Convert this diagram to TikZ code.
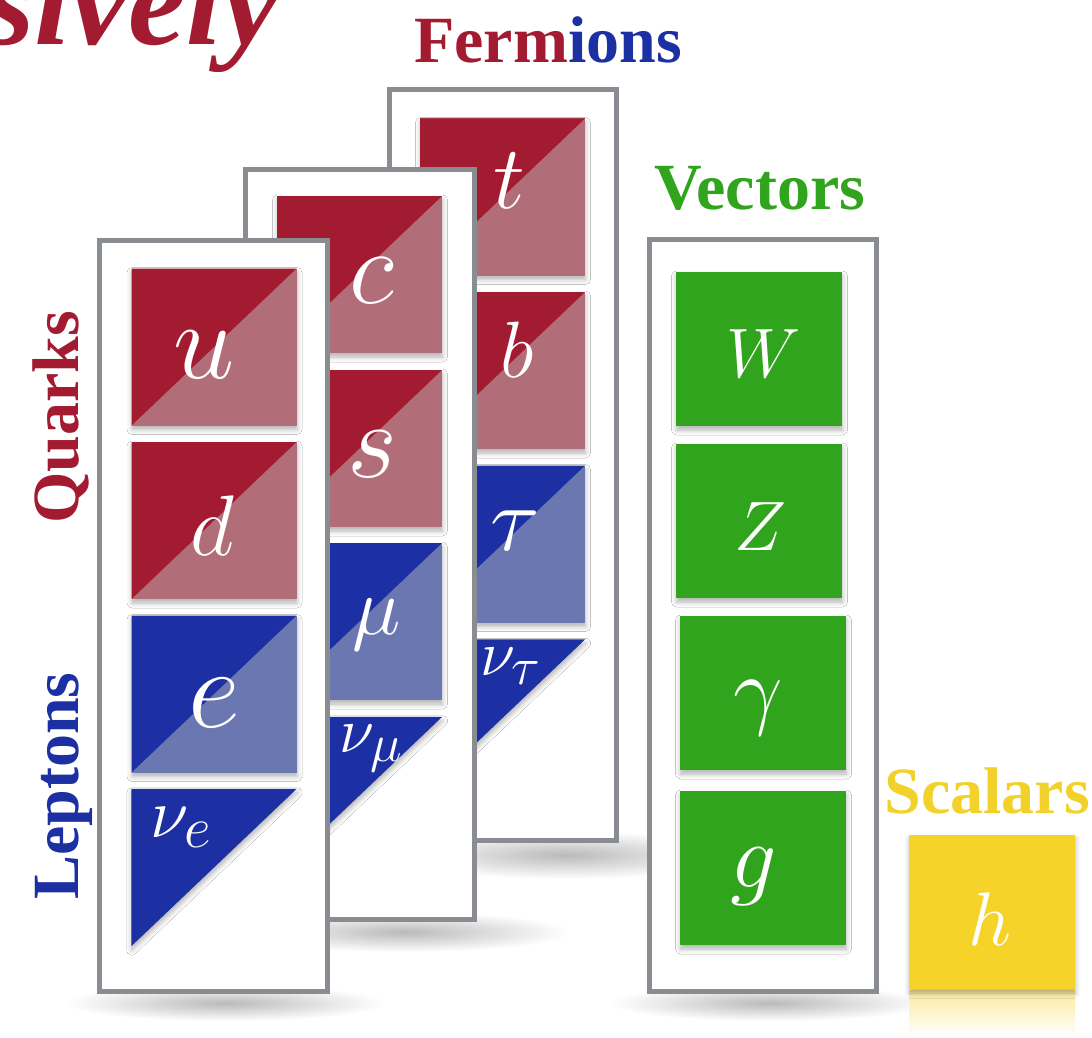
\documentclass[tikz,border=0pt]{standalone}
\usepackage{fontspec}
\newfontfamily\lbl{Liberation Serif}
\usetikzlibrary{shadows.blur,fadings}

\definecolor{qdark}{HTML}{A31B30}
\definecolor{qlight}{HTML}{B26E78}
\definecolor{ldark}{HTML}{1C30A4}
\definecolor{llight}{HTML}{6B77B1}
\definecolor{vgreen}{HTML}{30A41C}
\definecolor{hyellow}{HTML}{F5D328}
\definecolor{syellow}{HTML}{F2D12A}
\definecolor{framegray}{HTML}{898C90}

\newcommand\letsize[1]{\fontsize{#1}{#1}\selectfont}

\tikzfading[name=softspot, inner color=transparent!55, outer color=transparent!100]

\tikzset{
  frame/.style={draw=framegray, line width=5pt, fill=white, inner sep=0pt},
  sqshadow/.style={blur shadow={shadow xshift=0.5pt, shadow yshift=-4pt,
      shadow blur radius=5pt, shadow opacity=30}},
  halfsq/.style 2 args={sqshadow, fill=#2, inner sep=0pt,
      minimum width=165pt, minimum height=157pt,
      path picture={\fill[#1] (path picture bounding box.north west)
        -- (path picture bounding box.north east)
        -- (path picture bounding box.south west) -- cycle;}},
  quark/.style={halfsq={qdark}{qlight}},
  lepton/.style={halfsq={ldark}{llight}},
  nubox/.style={inner sep=0pt, minimum width=165pt, minimum height=157pt},
  boson/.style={sqshadow, fill=#1, inner sep=0pt,
      minimum width=166pt, minimum height=154pt},
  % letters: set at \Huge and scaled to the wanted size in pt
  lett/.style={text=white, inner sep=0pt, anchor=base, font=\Huge, scale=#1/24.88},
  nulett/.style={text=white, inner sep=0pt, anchor=base west, font=\Huge, scale=#1/24.88},
  lab/.style={font=\lbl\bfseries\letsize{66}, inner sep=0pt, anchor=base},
  floorshadow/.style={fill=black!60, path fading=softspot},
}

\begin{document}
\begin{tikzpicture}[x=1pt,y=-1pt]
\useasboundingbox (0,0) rectangle (1092,1038);

% heading fragment and group title
\node[font=\lbl\bfseries\itshape\letsize{130}, text=qdark, inner sep=0pt,
      anchor=base west] (sively) at (-16,45) {sively};
\node[lab] (fermions) at (548,63) {{\color{qdark}Ferm}{\color{ldark}ions}};

% third generation
\fill[floorshadow] (565,855) ellipse [x radius=175pt, y radius=24pt];
\node[frame, minimum width=227pt, minimum height=751pt] (gen3) at (503,465) {};
\node[quark]  (t)   at (502.5,197)   {};
\node[quark]  (b)   at (502.5,370.5) {};
\node[lepton] (tau) at (502.5,544)   {};
\node[nubox]  (nut) at (502.5,718)   {};
\fill[ldark, sqshadow] (nut.north west) -- (nut.north east) -- (nut.south west) -- cycle;
\node[lett=90]  (t-l)   at (509,208) {$t$};
\node[lett=80]  (b-l)   at (517,377) {$b$};
\node[lett=92]  (tau-l) at (515,550) {$\tau$};
\node[nulett=64] (nut-l) at (480,675) {$\nu_\tau$};

% second generation
\fill[floorshadow] (405,932) ellipse [x radius=165pt, y radius=20pt];
\node[frame, minimum width=229pt, minimum height=750pt] (gen2) at (360,544.5) {};
\node[quark]  (c)   at (359.5,274.5) {};
\node[quark]  (s)   at (359.5,448.5) {};
\node[lepton] (mu)  at (359.5,621.5) {};
\node[nubox]  (num) at (359.5,795.5) {};
\fill[ldark, sqshadow] (num.north west) -- (num.north east) -- (num.south west) -- cycle;
\node[lett=106] (c-l)  at (372,303) {$c$};
\node[lett=108] (s-l)  at (372,477) {$s$};
\node[lett=82]  (mu-l) at (377,634) {$\mu$};
\node[nulett=64] (num-l) at (339,752) {$\nu_\mu$};

% first generation
\fill[floorshadow] (225,1003) ellipse [x radius=160pt, y radius=18pt];
\node[frame, minimum width=228pt, minimum height=750.5pt] (gen1) at (213.5,615.75) {};
\node[quark]  (u)   at (214,347)   {};
\node[quark]  (d)   at (214,520.5) {};
\node[lepton] (e)   at (214,694)   {};
\node[nubox]  (nue) at (214,867.5) {};
\fill[ldark, sqshadow] (nue.north west) -- (nue.north east) -- (nue.south west) -- cycle;
\node[lett=110] (u-l) at (204,378) {$u$};
\node[lett=86]  (d-l) at (212,555) {$d$};
\node[lett=114] (e-l) at (214,727) {$e$};
\node[nulett=70] (nue-l) at (150,837) {$\nu_e$};

% vector bosons
\node[lab, text=vgreen] (vectors) at (760,209) {Vectors};
\fill[floorshadow] (770,1003) ellipse [x radius=160pt, y radius=18pt];
\node[frame, minimum width=227pt, minimum height=752pt] (vec) at (763,615.5) {};
\node[boson=vgreen] (W) at (759,349) {};
\node[boson=vgreen] (Z) at (759,521) {};
\node[boson=vgreen] (gamma) at (763,693) {};
\node[boson=vgreen] (g) at (763,868) {};
\node[lett=70] (W-l) at (764,377) {$W$};
\node[lett=70] (Z-l) at (760,550) {$Z$};
\node[lett=88] (gamma-l) at (758,718) {$\gamma$};
\node[lett=92] (g-l) at (754,887) {$g$};

% scalar boson with its reflection
\node[lab, text=syellow] (scalars) at (987,813) {Scalars};
\shade[top color=hyellow!45!white, bottom color=white] (909,990) rectangle (1075,1036);
\node[boson=hyellow] (h) at (992,912) {};
\node[lett=76] (h-l) at (990,945) {$h$};

% row titles
\node[lab, text=qdark, rotate=90] (quarks) at (78,417) {Quarks};
\node[lab, text=ldark, rotate=90] (leptons) at (78,786) {Leptons};
\end{tikzpicture}
\end{document}
